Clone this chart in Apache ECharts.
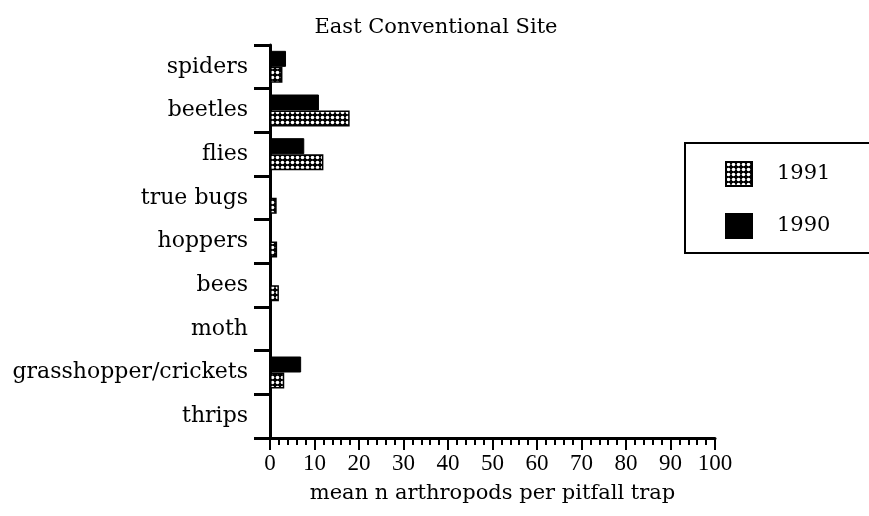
<!DOCTYPE html>
<html>
<head>
<meta charset="utf-8">
<script src="https://cdn.jsdelivr.net/npm/echarts@6/dist/echarts.min.js"></script>
<style>
  html, body { margin: 0; padding: 0; background: #fff; }
  #chart { width: 869px; height: 516px; }
</style>
</head>
<body>
<div id="chart"></div>
<script>
const categories = ['spiders', 'beetles', 'flies', 'true bugs', 'hoppers', 'bees', 'moth', 'grasshopper/crickets', 'thrips'];
const values1990 = [3.6, 11, 7.7, 0, 0, 0, 0, 7, 0];
const values1991 = [2.8, 17.9, 12, 1.5, 1.6, 2, 0, 3.2, 0];
const xTicks = [0, 10, 20, 30, 40, 50, 60, 70, 80, 90, 100];

const FONT = 'DejaVu Serif';

// dotted fill used for the 1991 bars
function makeDots() {
  const c = document.createElement('canvas');
  c.width = 5;
  c.height = 5;
  const ctx = c.getContext('2d');
  ctx.fillStyle = '#000';
  ctx.fillRect(0, 0, 5, 5);
  ctx.fillStyle = '#fff';
  ctx.beginPath();
  ctx.arc(2.5, 2.5, 1.8, 0, Math.PI * 2);
  ctx.fill();
  return c;
}
const dots = { image: makeDots(), repeat: 'repeat' };

const chart = echarts.init(document.getElementById('chart'), null, { renderer: 'canvas' });

const options = {
  backgroundColor: '#fff',
  animation: false,
  title: {
    text: 'East Conventional Site',
    left: 431,
    textAlign: 'center',
    top: 12,
    textStyle: { fontFamily: FONT, fontSize: 21, fontWeight: 'normal', color: '#000' },
  },
  legend: {
    orient: 'vertical',
    left: 685,
    top: 143,
    data: ['1991', '1990'],
    icon: 'rect',
    itemWidth: 26,
    itemHeight: 24,
    itemGap: 26,
    padding: [18, 120, 14, 40],
    borderColor: '#000',
    borderWidth: 2,
    textStyle: { fontFamily: FONT, fontSize: 21, color: '#000', padding: [0, 0, 0, 20] },
  },
  grid: { left: 270, right: 154, top: 45, bottom: 78, containLabel: false },
  xAxis: {
    type: 'value',
    min: 0,
    max: 100,
    interval: 10,
    name: 'mean n arthropods per pitfall trap',
    nameLocation: 'middle',
    nameGap: 45,
    nameTextStyle: { fontFamily: FONT, fontSize: 21, color: '#000' },
    axisLine: { show: true, lineStyle: { color: '#000', width: 3 } },
    axisTick: { show: true, length: 12, lineStyle: { color: '#000', width: 2 } },
    minorTick: { show: true, splitNumber: 5, length: 7, lineStyle: { color: '#000', width: 2 } },
    splitLine: { show: false },
    axisLabel: {
      margin: 14,
      fontFamily: 'Liberation Serif',
      fontSize: 23,
      color: '#000',
      formatter: (v) => (xTicks.includes(v) ? String(v) : ''),
    },
  },
  yAxis: {
    type: 'category',
    data: categories,
    inverse: true,
    axisLine: { show: true, lineStyle: { color: '#000', width: 3 } },
    axisTick: { show: true, length: 16, lineStyle: { color: '#000', width: 3 } },
    splitLine: { show: false },
    axisLabel: { margin: 22, fontFamily: FONT, fontSize: 22, color: '#000' },
  },
  series: [
    {
      name: '1990',
      type: 'bar',
      data: values1990,
      barWidth: 16,
      barGap: '0%',
      itemStyle: { color: '#000', borderColor: '#000', borderWidth: 1 },
    },
    {
      name: '1991',
      type: 'bar',
      data: values1991,
      barWidth: 16,
      barGap: '0%',
      itemStyle: { color: dots, borderColor: '#000', borderWidth: 1.5 },
    },
  ],
};

chart.setOption(options);
</script>
</body>
</html>
